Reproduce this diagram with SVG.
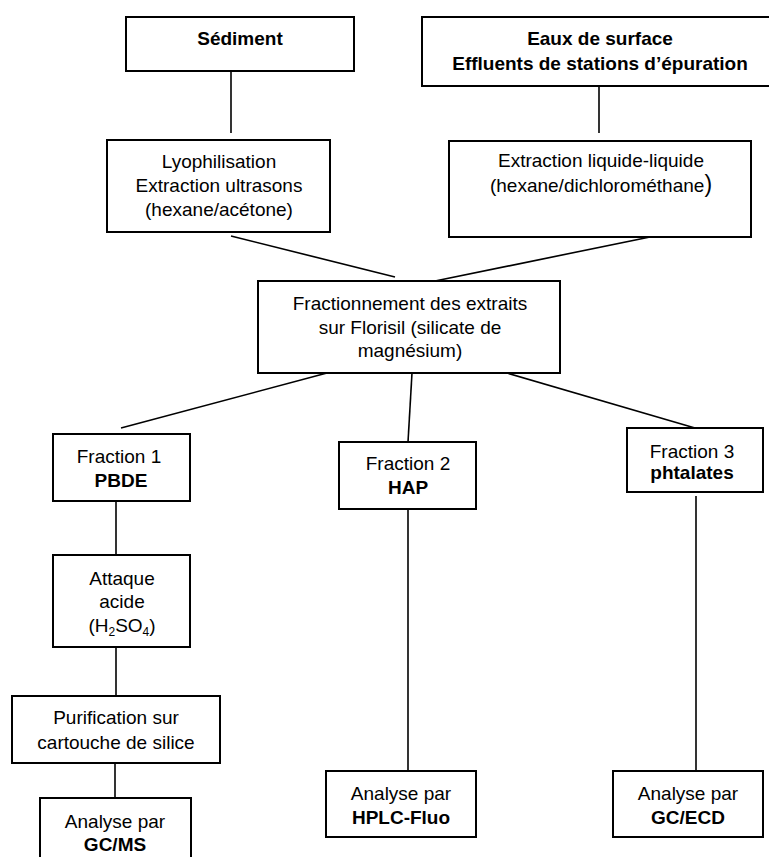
<svg xmlns="http://www.w3.org/2000/svg" width="769" height="857" viewBox="0 0 769 857">
<style>
.box{fill:#fff;stroke:#000;stroke-width:2}
.ln{stroke:#000;stroke-width:1.6;fill:none}
text{font-family:"Liberation Sans",Arial,sans-serif;font-size:19px;text-anchor:middle;fill:#000}
.b{font-weight:bold}
.sub{font-size:12px}
</style>
<rect width="769" height="857" fill="#fff"/>
<g id="connectors">
<line class="ln" x1="231" y1="71" x2="231" y2="133"/>
<line class="ln" x1="599" y1="86" x2="599" y2="133"/>
<line class="ln" x1="231" y1="236" x2="395" y2="277"/>
<line class="ln" x1="650" y1="237" x2="435" y2="281"/>
<line class="ln" x1="327" y1="373" x2="121" y2="428"/>
<line class="ln" x1="412" y1="373" x2="408" y2="442"/>
<line class="ln" x1="507" y1="373" x2="695" y2="428"/>
<line class="ln" x1="116" y1="501" x2="116" y2="555"/>
<line class="ln" x1="116" y1="647" x2="116" y2="696"/>
<line class="ln" x1="115" y1="763" x2="115" y2="798"/>
<line class="ln" x1="408" y1="509" x2="408" y2="771"/>
<line class="ln" x1="696" y1="496" x2="696" y2="771"/>
</g>
<g id="sediment">
<rect class="box" x="126" y="17" width="228" height="54"/>
<text class="b" x="240" y="45">Sédiment</text>
</g>
<g id="eaux">
<rect class="box" x="422" y="17" width="356" height="69"/>
<text class="b" x="600" y="45">Eaux de surface</text>
<text class="b" x="600" y="70">Effluents de stations d’épuration</text>
</g>
<g id="lyophilisation">
<rect class="box" x="107" y="140" width="223" height="92"/>
<text x="219" y="168">Lyophilisation</text>
<text x="219" y="192">Extraction ultrasons</text>
<text x="219" y="216">(hexane/acétone)</text>
</g>
<g id="extraction">
<rect class="box" x="449" y="141" width="302" height="96"/>
<text x="601" y="167">Extraction liquide-liquide</text>
<text x="601" y="192">(hexane/dichlorométhane<tspan font-size="23">)</tspan></text>
</g>
<g id="fractionnement">
<rect class="box" x="258" y="281" width="302" height="92"/>
<text x="410" y="310">Fractionnement des extraits</text>
<text x="410" y="334">sur Florisil (silicate de</text>
<text x="410" y="357">magnésium)</text>
</g>
<g id="fraction1">
<rect class="box" x="53" y="434" width="137" height="67"/>
<text x="119" y="463">Fraction 1</text>
<text class="b" x="121" y="487">PBDE</text>
</g>
<g id="attaque">
<rect class="box" x="53" y="555" width="137" height="92"/>
<text x="122" y="585">Attaque</text>
<text x="122" y="608">acide</text>
<text x="122" y="632">(H<tspan class="sub" dy="4">2</tspan><tspan dy="-4">SO</tspan><tspan class="sub" dy="4">4</tspan><tspan dy="-4">)</tspan></text>
</g>
<g id="purification">
<rect class="box" x="12" y="696" width="208" height="67"/>
<text x="116" y="724">Purification sur</text>
<text x="116" y="749">cartouche de silice</text>
</g>
<g id="gcms">
<rect class="box" x="40" y="798" width="151" height="80"/>
<text x="115" y="828">Analyse par</text>
<text class="b" x="115" y="851">GC/MS</text>
</g>
<g id="fraction2">
<rect class="box" x="339" y="442" width="137" height="67"/>
<text x="408" y="470">Fraction 2</text>
<text class="b" x="408" y="494">HAP</text>
</g>
<g id="hplc">
<rect class="box" x="326" y="771" width="150" height="66"/>
<text x="401" y="800">Analyse par</text>
<text class="b" x="401" y="824">HPLC-Fluo</text>
</g>
<g id="fraction3">
<rect class="box" x="627" y="428" width="136" height="64"/>
<text x="692" y="458">Fraction 3</text>
<text class="b" x="692" y="479">phtalates</text>
</g>
<g id="gcecd">
<rect class="box" x="613" y="771" width="150" height="66"/>
<text x="688" y="800">Analyse par</text>
<text class="b" x="688" y="824">GC/ECD</text>
</g>
</svg>
